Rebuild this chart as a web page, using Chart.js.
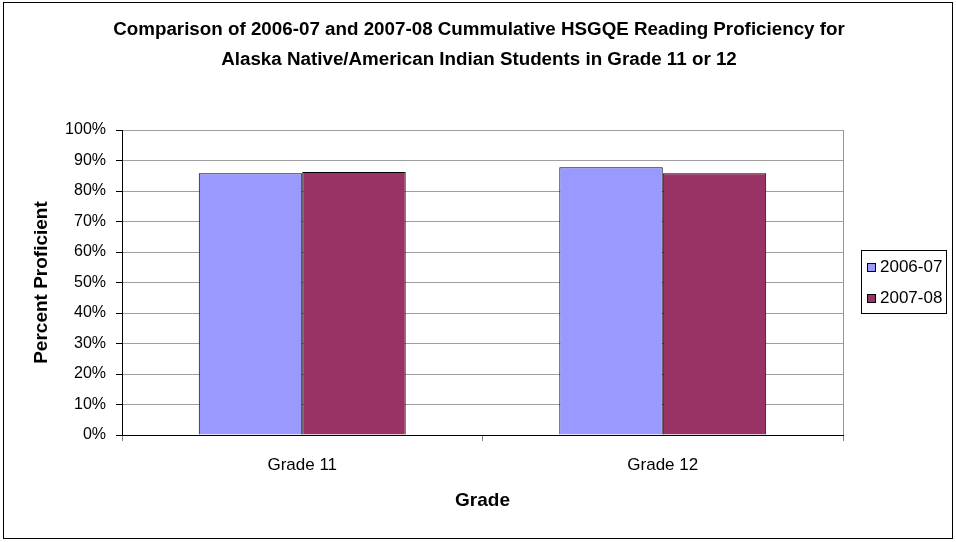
<!DOCTYPE html>
<html>
<head>
<meta charset="utf-8">
<script src="https://cdn.jsdelivr.net/npm/chart.js@4.4.0/dist/chart.umd.min.js"></script>
<style>
  html, body { margin: 0; padding: 0; background: #fff; }
  #wrap { position: relative; width: 956px; height: 542px; }
  #frame { position: absolute; left: 3px; top: 2px; width: 950px; height: 537px; border: 1px solid #000; box-sizing: border-box; pointer-events: none; }
</style>
</head>
<body>
<div id="wrap">
  <canvas id="myChart" width="956" height="542"></canvas>
  <div id="frame"></div>
</div>
<script>
// data
const grades = ['Grade 11', 'Grade 12'];
const seriesNames = ['2006-07', '2007-08'];
const values0607 = [85.8, 87.8];
const values0708 = [86.2, 85.8];
const yTicks = [0, 10, 20, 30, 40, 50, 60, 70, 80, 90, 100];
const titleLines = ['Comparison of 2006-07 and 2007-08 Cummulative HSGQE Reading Proficiency for',
                    'Alaska Native/American Indian Students in Grade 11 or 12'];

const FONT = "'Liberation Sans', Arial, sans-serif";
const colors = ['#9999FF', '#993366'];

// title centred on the whole picture + excel style legend box on the right
const extras = {
  id: 'extras',
  afterDraw(chart) {
    const ctx = chart.ctx;
    ctx.save();
    ctx.fillStyle = '#000';
    ctx.textAlign = 'center';
    ctx.textBaseline = 'middle';
    ctx.font = 'bold 18.8px ' + FONT;
    titleLines.forEach((t, i) => ctx.fillText(t, 479, 30 + i * 30));

    ctx.textAlign = 'left';
    ctx.strokeStyle = '#000';
    ctx.lineWidth = 1;
    ctx.strokeRect(861.5, 250.5, 85, 63);
    ctx.font = '17px ' + FONT;
    chart.data.datasets.forEach((ds, i) => {
      const cy = 267 + i * 31;
      ctx.fillStyle = ds.backgroundColor;
      ctx.fillRect(867, cy - 4, 9, 9);
      ctx.strokeRect(867.5, cy - 3.5, 8, 8);
      ctx.fillStyle = '#000';
      ctx.fillText(ds.label, 880, cy);
    });
    // right border of plot area
    const a = chart.chartArea;
    ctx.strokeStyle = '#999';
    ctx.beginPath();
    ctx.moveTo(Math.round(a.right) + 0.5, a.top);
    ctx.lineTo(Math.round(a.right) + 0.5, a.bottom);
    ctx.stroke();
    ctx.restore();
  }
};

let myChart = document.getElementById('myChart').getContext('2d');

let gradeChart = new Chart(myChart, {
    type: 'bar',
    data: {
        labels: grades,
        datasets: [{
            label: seriesNames[0],
            data: values0607,
            backgroundColor: colors[0],
            borderColor: '#000',
            borderWidth: 1
        }, {
            label: seriesNames[1],
            data: values0708,
            backgroundColor: colors[1],
            borderColor: '#000',
            borderWidth: 1
        }]
    },
    options: {
        responsive: false,
        animation: false,
        categoryPercentage: 0.574,
        barPercentage: 1,
        layout: { padding: { left: 0, right: 113, top: 130, bottom: 0 } },
        plugins: {
            legend: { display: false },
            tooltip: { enabled: false },
            title: { display: false }
        },
        scales: {
            x: {
                afterFit(scale) { scale.height = 107; },
                grid: { offset: true, drawOnChartArea: false, drawTicks: true, tickLength: 6, color: '#808080' },
                border: { color: '#000', width: 1 },
                ticks: { color: '#000', padding: 14, font: { family: FONT, size: 17 } },
                title: { display: true, text: 'Grade', color: '#000',
                         font: { family: FONT, size: 19, weight: 'bold' }, padding: { top: 0, bottom: 30 } }
            },
            y: {
                min: 0,
                max: 100,
                afterFit(scale) { scale.width = 122; },
                afterBuildTicks(scale) { scale.ticks = yTicks.map(v => ({ value: v })); },
                grid: { color: '#a0a0a0', drawTicks: true, tickLength: 6, tickColor: '#000' },
                border: { color: '#000', width: 1 },
                ticks: { color: '#000', padding: 10, font: { family: FONT, size: 16 },
                         callback: v => v + '%' },
                title: { display: true, text: 'Percent Proficient', color: '#000',
                         font: { family: FONT, size: 19, weight: 'bold' }, padding: { top: 30, bottom: 0 } }
            }
        }
    },
    plugins: [extras]
});
</script>
</body>
</html>
